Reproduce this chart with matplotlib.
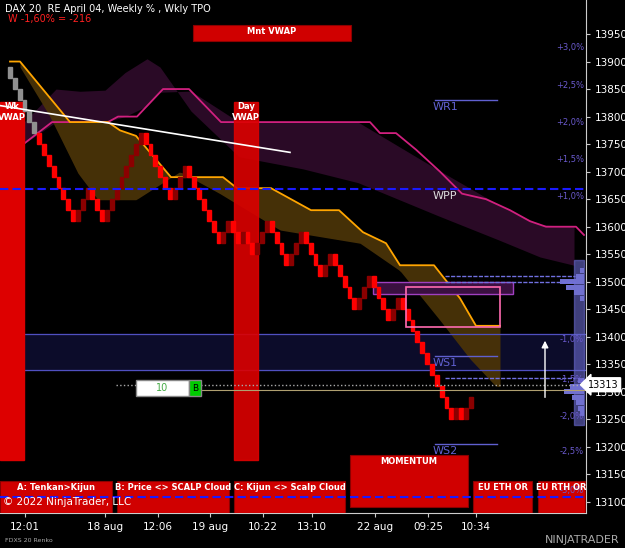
import matplotlib
matplotlib.use("Agg")
import matplotlib.pyplot as plt
from matplotlib.patches import Rectangle, FancyArrowPatch
import numpy as np

# ---------------- data ----------------
start_price = 13890
brick = 20
# renko segments: (direction, count)
segments = [(-1, 6), (-1, 8), (1, 3), (-1, 3), (1, 8), (-1, 6), (1, 3), (-1, 7),
            (1, 2), (-1, 2), (1, 1), (-1, 2), (1, 3), (-1, 4), (1, 3), (-1, 4),
            (1, 2), (-1, 5), (1, 3), (-1, 4), (1, 2), (-1, 11), (1, 1), (-1, 1), (1, 2)]
grey_count = 6

magenta_x = [10, 22, 52, 108, 118, 137, 163, 189, 221, 370, 380, 396, 416, 440, 462, 486, 510, 530, 546, 576, 584]
magenta_y = [13748, 13748, 13790, 13790, 13800, 13800, 13850, 13850, 13790, 13790, 13770, 13770, 13740, 13700, 13660, 13650, 13630, 13610, 13600, 13600, 13585]
span_x = [24, 56, 80, 105, 125, 147, 160, 191, 239, 303, 358, 438, 500, 540, 574]
span_y = [13790, 13850, 13846, 13848, 13880, 13905, 13890, 13810, 13727, 13705, 13680, 13620, 13575, 13545, 13530]

orange_x = [10, 20, 70, 108, 120, 136, 171, 223, 237, 271, 311, 339, 363, 386, 400, 434, 460, 476, 500]
orange_y = [13900, 13900, 13790, 13790, 13775, 13765, 13690, 13690, 13670, 13670, 13630, 13630, 13590, 13570, 13530, 13530, 13470, 13420, 13420]
olow_x = [20, 50, 78, 98, 136, 180, 220, 280, 360, 400, 440, 470, 496]
olow_y = [13890, 13800, 13697, 13649, 13649, 13700, 13660, 13594, 13570, 13520, 13430, 13360, 13310]

pct_labels = ["+3,0%", "+2,5%", "+2,0%", "+1,5%", "+1,0%", "-1,0%", "-1,5%", "-2,0%", "-2,5%", "-3,0%"]
pct_prices = [13925, 13857, 13790, 13722, 13655, 13395, 13322, 13255, 13192, 13120]

xtick_pos = [25, 105, 158, 210, 263, 312, 375, 428, 476]
xtick_lab = ["12:01", "18 aug", "12:06", "19 aug", "10:22", "13:10", "22 aug", "09:25", "10:34"]
ytick_vals = list(range(13100, 13951, 50))

prof_prices = [13520, 13510, 13500, 13490, 13480, 13470, 13320, 13310, 13300, 13290, 13280, 13270, 13260]
prof_len = [4, 8, 24, 18, 10, 4, 6, 14, 20, 12, 8, 6, 4]

# ---------------- figure ----------------
W, H = 625, 548
fig = plt.figure(figsize=(W / 100, H / 100), dpi=100, facecolor="black")
ax = fig.add_axes([0, 1 - 513 / H, 586 / W, 513 / H], facecolor="black")
ax.set_xlim(0, 586)
ppx = 0.5506
ytop = 13950 + 34 / ppx
ybot = 13950 - (513 - 34) / ppx
ax.set_ylim(ybot, ytop)

def py(pix):
    return 13950 - (pix - 34) / ppx

# clouds
ax.fill_between(span_x, span_y, np.interp(span_x, magenta_x, magenta_y),
                color="#2a0a26", zorder=1, lw=0)
ax.plot(magenta_x, magenta_y, color="#d0207f", lw=1.3, zorder=3)
xs = np.linspace(20, 500, 200)
oy = np.interp(xs, orange_x, orange_y)
ly = np.interp(xs, olow_x, olow_y)
ax.fill_between(xs, oy, ly, color="#4a3308", alpha=0.95, zorder=2, lw=0)
ax.plot(orange_x, orange_y, color="#ffa500", lw=1.3, zorder=4)

# blue band
ax.axhspan(13340, 13405, color="#0c0c2a", zorder=1)
ax.axhline(13405, color="#5050c0", lw=0.9, zorder=2)
ax.axhline(13340, color="#5050c0", lw=0.9, zorder=2)

# vertical vwap bars
for x0 in (0, 234):
    ax.add_patch(Rectangle((x0, py(460)), 24, py(102) - py(460), color="#dd0000", zorder=5, alpha=0.9 if x0 else 1))
ax.text(12, py(112), "Wk\nVWAP", color="white", fontsize=6, fontweight="bold", ha="center", va="center", zorder=8)
ax.text(246, py(112), "Day\nVWAP", color="white", fontsize=6, fontweight="bold", ha="center", va="center", zorder=8)

# renko bricks
price = start_price
x = 8.0
bw = 4.85
i = 0
for d, n in segments:
    for _ in range(n):
        lo = price - brick if d < 0 else price
        if i < grey_count:
            col = "#909090"
        else:
            col = "#ff0000" if d < 0 else "#8b0000"
        ax.add_patch(Rectangle((x, lo), bw - 1.0, brick, color=col, zorder=6))
        price += d * brick
        x += bw
        i += 1

# white trend line
ax.plot([0, 290], [13820, 13735], color="white", lw=1.2, zorder=7)

# pivot lines
ax.axhline(13668, color="#1a1aff", lw=1.5, ls=(0, (4, 2)), zorder=7)
ax.axhline(13110, color="#1a1aff", lw=1.5, ls=(0, (4, 2)), zorder=9)
for yv, lab, c in [(13830, "WR1", "#6060d0"), (13365, "WS1", "#6060d0"), (13205, "WS2", "#6060d0")]:
    ax.plot([435, 497], [yv, yv], color=c, lw=1, zorder=7)
    ax.text(433, yv - 4, lab, color=c, fontsize=8, va="top", zorder=7)
ax.text(433, 13664, "WPP", color="#dddddd", fontsize=8, va="top", zorder=7)

# rectangles
ax.add_patch(Rectangle((373, 13477), 140, 23, fill=True, fc="#3a1040", ec="#a040c0", lw=1, zorder=5))
ax.add_patch(Rectangle((406, 13418), 94, 72, fill=False, ec="#ff6ab0", lw=1.2, zorder=8))
ax.plot([445, 575], [13510, 13510], color="#7070e0", lw=1, ls=(0, (3, 1)), zorder=7)
ax.plot([445, 575], [13500, 13500], color="#7070e0", lw=1, ls=(0, (3, 1)), zorder=7)
ax.plot([445, 575], [13325, 13325], color="#7070e0", lw=1, ls=(0, (3, 1)), zorder=7)

# volume profile
ax.barh(prof_prices, [-v for v in prof_len], left=584, height=9, color="#7070d0", zorder=6)
ax.add_patch(Rectangle((574, 13240), 10, 300, color="#6a6ad0", alpha=0.6, zorder=5))

# last price line
ax.plot([116, 586], [13313, 13313], color="#aaaaaa", lw=1, ls=":", zorder=7)
ax.plot([200, 586], [13303, 13303], color="#b0a070", lw=0.8, zorder=7)
ax.add_patch(Rectangle((136, py(396)), 53, py(380) - py(396), fc="white", ec="#888", zorder=9))
ax.add_patch(Rectangle((189, py(396)), 12, py(380) - py(396), fc="#00cc00", ec="#888", zorder=9))
ax.text(162, py(388), "10", color="#44aa44", fontsize=7, ha="center", va="center", zorder=10)
ax.text(195, py(388), "B", color="black", fontsize=6.5, ha="center", va="center", zorder=10)

# arrow
ax.add_patch(FancyArrowPatch((545, 13285), (545, 13398), arrowstyle="-|>", mutation_scale=10, color="white", lw=1, zorder=9))

# percent labels
for lab, p in zip(pct_labels, pct_prices):
    ax.text(584, p, lab, color="#6a5acd", fontsize=6, ha="right", va="center", zorder=9)

# boxes
def box(x0, x1, y0, y1, label, fs=6):
    ax.add_patch(Rectangle((x0, py(y1)), x1 - x0, py(y0) - py(y1), fc="#d00000", ec="#8b0000", lw=0.8, zorder=8))
    ax.text((x0 + x1) / 2, py(y0 + 6), label, color="white", fontsize=fs, fontweight="bold", ha="center", va="center", zorder=10)

box(193, 351, 25, 41, "Mnt VWAP")
box(0, 112, 481, 513, "A: Tenkan>Kijun")
box(117, 229, 481, 513, "B: Price <> SCALP Cloud")
box(234, 345, 481, 513, "C: Kijun <> Scalp Cloud")
box(350, 468, 455, 507, "MOMENTUM")
box(473, 532, 481, 513, "EU ETH OR")
box(538, 585, 481, 513, "EU RTH OR")
ax.text(3, py(502), "© 2022 NinjaTrader, LLC", color="white", fontsize=7.5, va="center", zorder=11)

# axes styling
ax.yaxis.tick_right()
ax.set_yticks(ytick_vals)
ax.set_yticklabels([str(v) for v in ytick_vals])
ax.set_xticks(xtick_pos)
ax.set_xticklabels(xtick_lab)
ax.tick_params(colors="#cccccc", labelsize=7.5, length=3, labelcolor="white")
for s in ("top", "left"):
    ax.spines[s].set_visible(False)
for s in ("right", "bottom"):
    ax.spines[s].set_color("#cccccc")

# price marker
ax.text(588, 13313, "13313", color="black", fontsize=7, va="center", ha="left", zorder=12,
        bbox=dict(boxstyle="larrow,pad=0.2", fc="white", ec="white"), clip_on=False)

fig.text(5 / W, 1 - 9 / H, "DAX 20  RE April 04, Weekly % , Wkly TPO", color="white", fontsize=7, va="center")
fig.text(8 / W, 1 - 19 / H, "W -1,60% = -216", color="#ff2020", fontsize=7, va="center")
fig.text(5 / W, 1 - 541 / H, "FDXS 20 Renko", color="#aaaaaa", fontsize=4.5, va="center")
fig.text(620 / W, 1 - 540 / H, "NINJATRADER", color="#aaaaaa", fontsize=8, ha="right", va="center")

fig.savefig("out.png", dpi=100, facecolor="black")
